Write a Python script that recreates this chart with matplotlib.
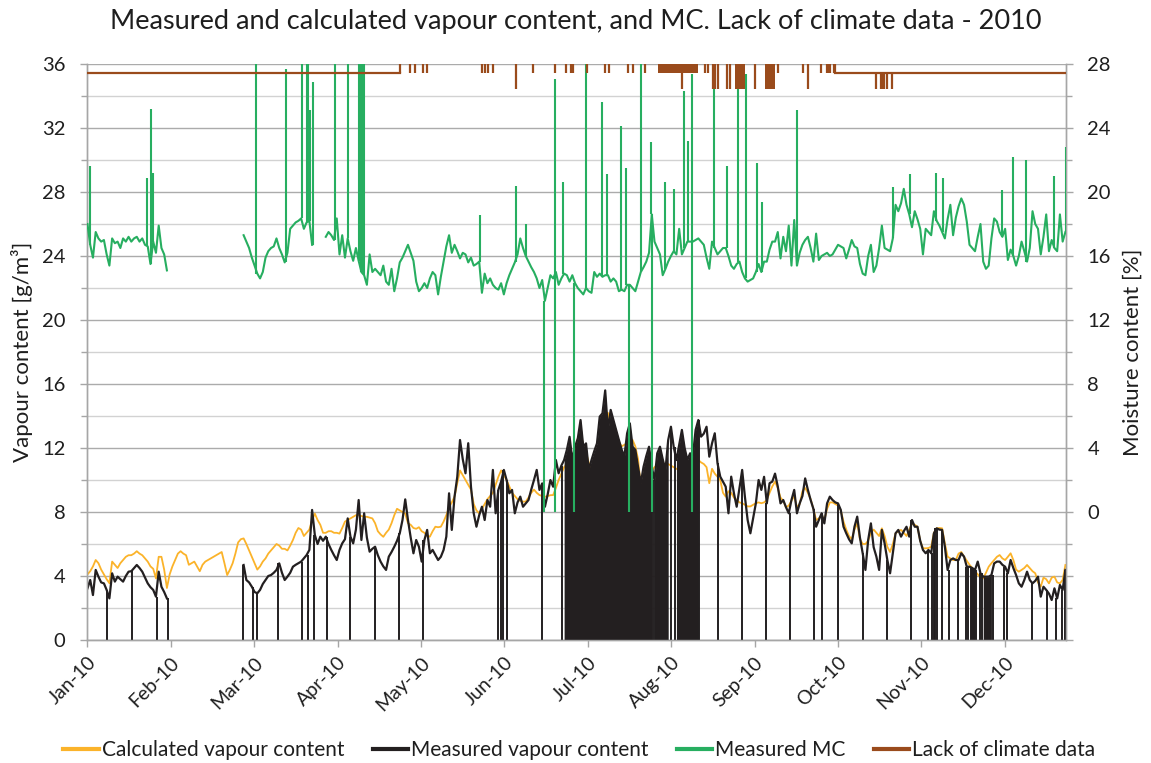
import numpy as np
import matplotlib
matplotlib.use("Agg")
import matplotlib.pyplot as plt
from matplotlib.lines import Line2D
from matplotlib.ticker import MultipleLocator, FuncFormatter

plt.rcParams['font.family'] = ['Lato', 'DejaVu Sans']

nan = np.nan

# ---------------------------------------------------------------
# Data (one value per day, day 0 = 1 Jan)
# ---------------------------------------------------------------
MONTHS = ["Jan-10", "Feb-10", "Mar-10", "Apr-10", "May-10", "Jun-10",
          "Jul-10", "Aug-10", "Sep-10", "Oct-10", "Nov-10", "Dec-10"]

# calculated vapour content [g/m3]
CALC_VAPOUR = [
    4.1, 4.3, 4.6, 5.0, 4.8, 4.4, 4.1, 3.8, 3.55, 4.9,          # 0
    4.7, 4.5, 4.8, 5.0, 5.2, 5.3, 5.3, 5.4, 5.55, 5.4,          # 10
    5.3, 5.1, 4.9, 4.6, 4.45, 3.85, 5.2, 5.2, 4.4, 3.25,        # 20
    4.1, 4.6, 5.0, 5.4, 5.55, 5.4, 5.3, 4.7, 4.8, 4.9,          # 30
    4.6, 4.3, 4.7, 4.9, 5.0, 5.1, 5.2, 5.3, 5.4, 5.5,           # 40
    4.8, 4.06, 4.4, 4.8, 5.4, 6.1, 6.3, 6.35, 6.0, 5.6,         # 50
    5.2, 4.8, 4.4, 4.6, 4.9, 5.1, 5.4, 5.6, 5.8, 6.0,           # 60
    5.9, 5.7, 5.7, 5.6, 5.9, 6.25, 6.7, 7.0, 6.9, 6.5,          # 70
    6.7, 6.9, 7.5, 7.9, 7.5, 7.2, 6.7, 6.7, 6.8, 6.8,           # 80
    6.7, 6.7, 6.65, 7.0, 7.4, 7.5, 7.6, 7.7, 7.8, 7.8,          # 90
    7.75, 7.7, 7.7, 7.65, 7.6, 7.3, 6.8, 6.6, 6.45, 6.7,        # 100
    6.9, 7.3, 7.8, 8.2, 8.1, 8.0, 7.9, 7.3, 7.2, 7.0,           # 110
    6.95, 7.05, 6.8, 6.7, 6.5, 6.46, 6.8, 7.08, 7.05, 7.08,     # 120
    7.4, 7.8, 8.3, 8.6, 8.96, 9.8, 10.6, 10.3, 10.0, 9.7,       # 130
    9.4, 8.5, 8.1, 7.92, 8.2, 8.5, 8.8, 9.0, 9.2, 9.7,          # 140
    10.2, 10.6, 10.3, 10.0, 9.6, 9.2, 9.0, 8.8, 8.7, 8.65,      # 150
    8.65, 8.9, 9.2, 9.4, 9.2, 9.06, 9.0, 8.95, 9.0, 9.05,       # 160
    9.06, 9.5, 10.0, 10.4, 10.8, 11.0, 11.1, 11.25, 11.9, 12.6, # 170
    12.9, 12.2, 11.7, 11.1, 10.6, 11.0, 11.3, 12.0, 12.6, 13.8, # 180
    14.2, 13.5, 13.2, 12.9, 12.4, 12.1, 12.2, 12.3, 12.4, 12.5, # 190
    12.1, 11.3, 9.6, 9.9, 10.2, 10.4, 10.6, 10.8, 10.95, 11.05, # 200
    11.05, 11.0, 11.0, 10.9, 10.8, 10.7, 10.6, 10.65, 10.7, 10.9,   # 210
    11.1, 11.25, 11.25, 11.25, 11.1, 11.0, 10.8, 9.8, 10.7, 10.4,   # 220
    10.2, 10.0, 9.2, 8.96, 9.3, 9.2, 8.9, 8.75, 8.6, 8.55,      # 230
    8.45, 8.35, 8.35, 8.45, 8.55, 8.6, 8.55, 8.6, 8.75, 9.2,    # 240
    9.6, 9.9, 9.5, 8.9, 8.7, 8.3, 8.4, 8.7, 9.0, 8.3,           # 250
    8.5, 9.3, 9.5, 9.2, 8.8, 8.2, 7.5, 7.6, 7.8, 7.5,           # 260
    8.2, 8.6, 8.6, 8.5, 8.4, 8.1, 7.4, 6.9, 6.5, 6.3,           # 270
    6.9, 7.3, 6.3, 6.0, 6.0, 6.2, 6.7, 6.9, 6.7, 6.5,           # 280
    6.98, 6.5, 5.83, 5.5, 6.0, 6.67, 6.8, 6.88, 6.7, 6.5,       # 290
    6.9, 7.29, 7.2, 7.08, 6.2, 5.73, 5.73, 5.75, 5.83, 6.7,     # 300
    6.98, 7.0, 6.98, 6.04, 5.21, 5.1, 5.0, 5.0, 5.4, 5.5,       # 310
    5.21, 4.95, 4.7, 4.5, 4.3, 4.1, 3.9, 3.85, 4.2, 4.58,       # 320
    4.8, 5.0, 5.2, 5.31, 5.1, 5.0, 5.2, 5.42, 5.0, 4.4,         # 330
    4.27, 4.38, 4.5, 4.69, 4.5, 4.3, 4.17, 3.6, 3.33, 3.9,      # 340
    3.8, 3.54, 3.9, 3.96, 3.6, 3.54, 3.75, 4.69,                # 350
]

# measured vapour content [g/m3]
MEAS_VAPOUR = [
    3.23, 3.75, 2.81, 4.38, 3.96, 3.6, 3.54, 3.13, 2.6, 4.17,   # 0
    3.65, 3.96, 3.8, 3.65, 4.0, 4.27, 4.3, 4.5, 4.69, 4.5,      # 10
    4.27, 3.9, 3.54, 3.3, 3.13, 2.71, 4.27, 3.33, 3.0, 2.6,     # 20
    nan, nan, nan, nan, nan, nan, nan, nan, nan, nan,           # 30
    nan, nan, nan, nan, nan, nan, nan, nan, nan, nan,           # 40
    nan, nan, nan, nan, nan, nan, nan, 4.69, 3.75, 3.6,         # 50
    3.33, 3.0, 2.92, 3.13, 3.5, 3.75, 4.0, 4.06, 4.2, 4.38,     # 60
    4.79, 4.2, 3.75, 3.96, 4.2, 4.58, 4.7, 4.8, 4.9, 5.1,       # 70
    5.31, 5.63, 8.13, 6.56, 6.0, 6.46, 6.2, 6.46, 6.0, 5.63,    # 80
    5.3, 5.0, 5.63, 6.04, 6.3, 7.6, 6.46, 6.04, 6.9, 8.75,      # 90
    6.25, 7.92, 6.4, 5.52, 5.7, 5.83, 5.3, 4.9, 4.6, 4.38,      # 100
    5.21, 5.5, 5.83, 6.2, 6.67, 7.5, 8.79, 7.5, 6.4, 5.42,      # 110
    6.25, 5.83, 4.9, 6.25, 6.88, 5.42, 5.63, 5.31, 5.0, 5.2,    # 120
    5.63, 6.46, 9.17, 6.88, 8.96, 10.2, 12.5, 11.3, 10.42, 12.3,    # 130
    9.58, 7.92, 7.08, 7.8, 8.33, 7.5, 8.75, 8.33, 10.63, 7.92,      # 140
    9.38, 9.9, 10.63, 10.0, 9.17, 9.38, 7.92, 8.6, 8.96, 8.33,      # 150
    8.54, 8.75, 9.4, 10.0, 10.63, 9.38, 9.79, 8.33, 9.1, 10.0,      # 160
    9.58, 11.25, 10.42, 10.9, 11.25, 11.88, 12.7, 11.25, 12.08, 12.6,   # 170
    13.75, 12.08, 12.29, 10.63, 11.25, 11.8, 12.29, 13.96, 14.17, 15.6, # 180
    13.13, 14.38, 13.75, 13.13, 12.5, 11.9, 11.46, 12.92, 13.54, 12.08, # 190
    11.88, 10.8, 9.79, 10.83, 11.5, 12.08, 10.83, 10.0, 11.67, 12.08,   # 200
    11.3, 10.63, 12.5, 13.33, 12.08, 11.25, 12.2, 13.13, 12.0, 11.25,   # 210
    11.67, 11.46, 13.13, 13.75, 12.71, 12.9, 13.33, 11.46, 12.29, 12.92,    # 220
    11.04, 10.21, 9.9, 9.58, 7.92, 10.21, 9.17, 8.33, 9.5, 10.63,       # 230
    8.96, 7.5, 6.67, 7.6, 8.54, 10.0, 9.38, 10.2, 8.54, 9.8,    # 240
    9.9, 10.4, 9.6, 8.54, 8.75, 8.3, 7.92, 8.75, 9.38, 7.92,    # 250
    8.54, 9.0, 10.1, 9.38, 8.75, 8.2, 7.08, 7.5, 7.92, 7.29,    # 260
    8.54, 8.96, 8.75, 8.6, 8.54, 8.13, 7.08, 6.67, 6.3, 6.04,   # 270
    7.08, 7.71, 6.4, 5.42, 4.38, 6.25, 7.29, 5.8, 5.21, 4.38,   # 280
    6.88, 6.04, 5.0, 4.17, 5.42, 6.67, 6.88, 6.46, 6.8, 7.08,   # 290
    6.46, 7.5, 7.08, 7.08, 6.2, 5.63, 5.42, 5.63, 5.42, 6.67,   # 300
    6.98, 6.9, 6.88, 5.83, 4.38, 5.0, 5.1, 5.0, 5.0, 5.42,      # 310
    5.21, 4.58, 4.58, 4.5, 4.38, 4.9, 4.17, 3.96, 3.96, 3.96,   # 320
    4.06, 4.79, 4.9, 4.9, 4.7, 4.58, 4.17, 5.0, 4.5, 4.06,      # 330
    3.54, 3.33, 3.75, 4.27, 3.75, 3.54, 3.7, 3.96, 2.71, 3.33,  # 340
    3.13, 2.9, 2.5, 3.23, 2.6, 3.44, 3.13, 4.38,                # 350
]

# measured moisture content [%]
MEAS_MC = [
    18.0, 16.7, 15.9, 17.5, 17.1, 16.9, 17.0, 16.1, 15.4, 17.1,     # 0
    16.8, 16.9, 16.5, 17.1, 16.9, 17.2, 16.9, 17.1, 17.2, 16.9,     # 10
    17.1, 16.7, 16.6, 15.5, 16.9, 16.2, 17.9, 16.5, 16.1, 15.1,     # 20
    nan, nan, nan, nan, nan, nan, nan, nan, nan, nan,               # 30
    nan, nan, nan, nan, nan, nan, nan, nan, nan, nan,               # 40
    nan, nan, nan, nan, nan, nan, nan, 17.3, 16.9, 16.5,            # 50
    15.9, 15.4, 14.9, 14.6, 15.0, 15.9, 16.3, 16.5, 16.6, 17.1,     # 60
    16.5, 16.1, 15.6, 16.2, 17.7, 17.9, 18.1, 18.2, 18.35, 17.7,    # 70
    18.1, 18.2, 16.7, nan, nan, nan, nan, 17.2, 17.5, 17.3,         # 80
    17.0, 18.35, 16.1, 17.3, 15.9, 17.1, 16.3, 15.7, 16.5, 15.7,    # 90
    15.0, 14.8, 14.2, 16.1, 15.0, 15.2, 15.0, 14.8, 15.4, 14.4,     # 100
    14.2, 15.2, 13.8, 14.6, 15.6, 15.9, 16.3, 16.7, 16.2, 15.7,     # 110
    14.4, 13.8, 14.0, 14.3, 14.0, 14.6, 15.0, 14.8, 13.6, 14.7,     # 120
    15.65, 16.6, 17.3, 16.2, 16.7, 16.3, 15.85, 16.2, 16.1, 15.6,   # 130
    15.9, 15.4, 15.5, 15.65, 13.7, 14.9, 14.3, 14.6, 14.2, 14.0,    # 140
    13.9, 14.3, 13.6, 14.3, 14.8, 15.2, 15.6, 16.1, 17.1, 16.5,     # 150
    16.0, 15.65, 15.3, 15.0, 14.6, 14.0, 14.5, 13.2, 14.0, 14.8,    # 160
    14.6, 15.0, 14.2, 14.6, 14.9, 14.8, 14.4, 14.8, 14.3, 14.0,     # 170
    13.8, 13.6, 14.0, 13.8, 13.7, 15.0, 14.7, 14.9, 14.7, 14.8,     # 180
    14.8, 14.4, 14.6, 14.4, 13.8, 13.9, 13.8, 14.2, 14.2, 14.0,     # 190
    13.8, 14.4, 15.0, 15.3, 15.65, 16.2, 18.6, 16.9, 16.5, 16.1,    # 200
    14.8, 15.2, 15.65, 16.0, 16.3, 16.1, 17.7, 16.1, 16.5, 16.9,    # 210
    16.9, 16.9, 17.0, 17.1, 16.9, 16.7, 15.9, 15.2, 16.9, 16.5,     # 220
    16.1, 16.3, 16.5, 16.5, 16.0, 15.4, 15.2, 15.5, 15.65, 15.0,    # 230
    14.6, 14.4, 14.5, 14.6, 15.0, 15.5, 15.0, 15.65, 15.65, 16.4,   # 240
    16.9, 16.9, 17.5, 15.85, 17.2, 16.3, 17.9, 15.4, 18.25, 15.4,   # 250
    16.2, 16.7, 17.0, 17.2, 16.5, 15.65, 17.4, 15.75, 16.0, 16.1,   # 260
    16.2, 16.0, 16.1, 16.4, 16.7, 16.6, 16.5, 15.85, 16.4, 17.0,    # 270
    16.6, 16.5, 15.5, 14.9, 14.8, 16.0, 16.7, 15.0, 15.4, 16.5,     # 280
    17.9, 16.5, 16.4, 16.3, 17.1, 19.2, 18.8, 19.3, 20.2, 19.2,     # 290
    18.6, 17.8, 18.8, 18.3, 17.7, 16.1, 17.7, 17.5, 17.3, 18.8,     # 300
    18.2, 17.9, 17.5, 17.1, 18.3, 19.2, 17.3, 18.4, 19.1, 19.6,     # 310
    19.2, 18.15, 16.7, 16.5, 16.3, 17.2, 18.0, 15.65, 15.2, 15.4,   # 320
    17.1, 18.35, 18.15, 17.5, 17.2, 17.7, 15.75, 16.4, 16.0, 15.4,  # 330
    16.0, 16.9, 16.3, 15.65, 16.5, 18.8, 18.0, 17.7, 16.1, 17.2,    # 340
    18.6, 16.3, 17.0, 16.5, 16.3, 18.6, 16.9, 17.5,                 # 350
]

LAST_DAY = 357.2

# short drops of measured vapour content to 0
VAPOUR_DROP_DAYS = [7.2, 16.1, 25.3, 29.3, 56.9, 60.5, 61.8, 69.6, 78.2, 80.4,
                    82.8, 87.3, 95.8, 105.0, 113.8, 122.6, 150.0, 151.0, 151.8,
                    153.3, 165.8, 230.1, 239.0, 247.6, 256.5, 265.2, 268.2,
                    274.1, 283.1, 291.8, 300.7, 306.9, 308.3, 308.9, 309.5,
                    310.1, 311.9, 314.5, 317.9, 320.6, 325.8, 334.6, 335.6,
                    344.7, 350.2, 353.5, 355.7, 356.8]
# periods where the measured vapour drops to 0 many times
VAPOUR_DROP_SPANS = [(173.3, 206.0), (206.8, 212.9), (214.5, 223.4),
                     (321.6, 324.4), (326.5, 330.4)]

# MC spikes (day, peak value)
MC_SPIKE_DAYS = [0.9, 21.6, 23.2, 24.0, 61.5, 72.4, 78.2, 80.0, 80.6, 81.2,
                 82.2, 90.4, 95.0, 99.2, 99.9, 100.5, 101.0, 143.3, 156.3,
                 160.1, 170.7, 173.5, 182.0, 187.7, 189.8, 194.8, 196.6,
                 202.1, 205.7, 210.8, 214.1, 217.7, 219.1, 220.8, 228.7,
                 233.4, 237.6, 240.4, 244.5, 246.1, 258.9, 294.1, 300.3,
                 309.8, 312.2, 333.8, 337.8, 342.6, 353.0, 357.1]
MC_SPIKE_VALUES = [21.6, 20.85, 25.2, 21.2, 29, 27.7, 29, 29, 29, 25.1,
                   26.9, 29, 29, 29, 29, 29, 29, 18.56, 20.4,
                   18.0, 27.06, 20.6, 29, 25.6, 21.1, 24.1, 21.5,
                   29, 23.1, 20.6, 20.2, 26.3, 23.2, 27.4, 27.06,
                   21.6, 27.4, 27.4, 21.8, 19.4, 25.1, 20.3, 21.1,
                   21.2, 20.9, 20.1, 22.2, 22.0, 21.0, 22.8]
MC_ZERO_DAYS = [166.7, 170.7, 177.6, 197.7, 206.0, 220.8]

# lack of climate data indicator (right axis)
LACK_LEVEL = 27.45
LACK_DEEP_LEVEL = 26.45
LACK_HIGH_LEVEL = 29.0
LACK_HIGH_SPAN = (114.0, 272.9)
LACK_SHORT_DAYS = [117.7, 119.6, 122.6, 123.8, 143.9, 145.1, 146.3, 148.2,
                   162.8, 170.7, 174.7, 176.4, 177.1, 182.3, 188.9, 190.5,
                   197.4, 199.3, 203.5, 225.4, 226.7, 252.2, 261.1, 267.7,
                   269.9, 270.5, 271.1, 272.5]
LACK_DEEP_DAYS = [156.4, 216.9, 228.5, 229.2, 230.3, 233.6, 234.6, 243.7,
                  263.2, 287.8, 289.6, 290.2, 290.8, 291.8, 293.8]
LACK_BLOCKS = [(208.4, 223.0, 27.45), (236.4, 240.1, 26.45), (247.4, 251.1, 26.45)]

# -------------------------------
# Styling
# -------------------------------
YELLOW = '#FBB32A'
BLACK = '#231F20'
GREEN = '#27AE60'
BROWN = '#9A4B1C'
AXIS_GREY = '#A6A6A6'
TEXT = '#1E1E1E'
MONTH_STEP = 30.44

calc = np.array(CALC_VAPOUR, dtype=float)
meas = np.array(MEAS_VAPOUR, dtype=float)
mc = np.array(MEAS_MC, dtype=float)
assert len(calc) == len(meas) == len(mc) == 358, (len(calc), len(meas), len(mc))
days = np.arange(len(calc))


def at_day(series, d):
    return series[int(round(d))]


fig = plt.figure(figsize=(11.51, 7.63), dpi=100)
ax = fig.add_axes([0.0760, 0.1612, 0.8501, 0.7549])
ax2 = ax.twinx()

# vapour content (left axis)
ax.plot(days, calc, color=YELLOW, lw=1.3, zorder=3)
ax.plot(days, meas, color=BLACK, lw=1.6, zorder=4)
ax.vlines(VAPOUR_DROP_DAYS, 0, [at_day(meas, d) for d in VAPOUR_DROP_DAYS],
          color=BLACK, lw=1.4, zorder=4)
for start, end in VAPOUR_DROP_SPANS:
    sel = (days >= start) & (days <= end)
    ax.fill_between(days[sel], 0, meas[sel], color=BLACK, lw=0, zorder=4)
    ax.vlines([start, end], 0, [at_day(meas, start), at_day(meas, end)],
              color=BLACK, lw=1.4, zorder=4)

# moisture content (right axis)
ax2.plot(days, mc, color=GREEN, lw=1.5, zorder=3)
ax2.vlines(MC_SPIKE_DAYS, [at_day(mc, d) for d in MC_SPIKE_DAYS], MC_SPIKE_VALUES,
           color=GREEN, lw=1.5, zorder=3)
ax2.vlines(MC_ZERO_DAYS, 0, [at_day(mc, d) for d in MC_ZERO_DAYS],
           color=GREEN, lw=1.5, zorder=3)

# lack of climate data
hs, he = LACK_HIGH_SPAN
ax2.plot([0, hs], [LACK_LEVEL, LACK_LEVEL], color=BROWN, lw=1.6, zorder=4)
ax2.plot([he, LAST_DAY], [LACK_LEVEL, LACK_LEVEL], color=BROWN, lw=1.6, zorder=4)
ax2.vlines([hs, he], LACK_LEVEL, LACK_HIGH_LEVEL, color=BROWN, lw=1.6, zorder=4)
ax2.vlines(LACK_SHORT_DAYS, LACK_LEVEL, LACK_HIGH_LEVEL, color=BROWN, lw=1.6, zorder=4)
for d in LACK_DEEP_DAYS:
    top = LACK_HIGH_LEVEL if hs <= d <= he else LACK_LEVEL
    ax2.vlines(d, LACK_DEEP_LEVEL, top, color=BROWN, lw=1.6, zorder=4)
for start, end, low in LACK_BLOCKS:
    ax2.fill_between([start, end], low, LACK_HIGH_LEVEL, color=BROWN, lw=0, zorder=4)

# axes
ax.set_xlim(0, LAST_DAY)
ax.set_ylim(0, 36)
ax2.set_ylim(-8, 28)

ax.set_xticks(np.arange(len(MONTHS)) * MONTH_STEP)
ax.set_xticklabels(MONTHS, rotation=45, ha='right', rotation_mode='anchor')
ax.yaxis.set_major_locator(MultipleLocator(4))
ax.yaxis.set_minor_locator(MultipleLocator(2))
ax2.yaxis.set_major_locator(MultipleLocator(4))
ax2.yaxis.set_minor_locator(MultipleLocator(2))
ax2.yaxis.set_major_formatter(FuncFormatter(lambda v, _: f"{v:.0f}" if v >= 0 else ""))

ax.set_axisbelow(True)
ax.grid(which='major', axis='y', color='#ABABAB', lw=1.0)
ax.grid(which='minor', axis='y', color='#D2D2D2', lw=1.0)

for a in (ax, ax2):
    for side, sp in a.spines.items():
        sp.set_color(AXIS_GREY)
        sp.set_linewidth(1.0)
    a.spines['top'].set_visible(False)

ax.tick_params(axis='y', which='major', direction='out', length=5, width=1,
               color=AXIS_GREY, pad=11, labelsize=14.5, labelcolor=TEXT)
ax.tick_params(axis='y', which='minor', direction='out', length=4, width=1, color=AXIS_GREY)
ax2.tick_params(axis='y', which='major', direction='out', length=5, width=1,
                color=AXIS_GREY, pad=10.5, labelsize=14.5, labelcolor=TEXT)
ax2.tick_params(axis='y', which='minor', direction='out', length=4, width=1, color=AXIS_GREY)
ax.tick_params(axis='x', direction='out', length=5, width=1, color=AXIS_GREY,
               pad=5, labelsize=14, labelcolor=TEXT)

fig.text(22 / 1151, 1 - 352 / 763, "Vapour content [g/m³]", rotation=90,
         ha='center', va='center', fontsize=16, color=TEXT)
fig.text(1133 / 1151, 1 - 352 / 763, "Moisture content [%]", rotation=90,
         ha='center', va='center', fontsize=16, color=TEXT)
fig.text(0.5, 1 - 22 / 763,
         "Measured and calculated vapour content, and MC. Lack of climate data - 2010",
         ha='center', va='center', fontsize=19.5, color=TEXT)

handles = [Line2D([], [], color=c, lw=3) for c in (YELLOW, BLACK, GREEN, BROWN)]
labels = ["Calculated vapour content", "Measured vapour content",
          "Measured MC", "Lack of climate data"]
fig.legend(handles, labels, loc='center', bbox_to_anchor=(579.5 / 1151, 1 - 750 / 763),
           ncol=4, frameon=False, fontsize=15, handlelength=1.7,
           handletextpad=0.15, columnspacing=1.35, borderaxespad=0, labelcolor=TEXT)

fig.savefig('out.png', dpi=100)
